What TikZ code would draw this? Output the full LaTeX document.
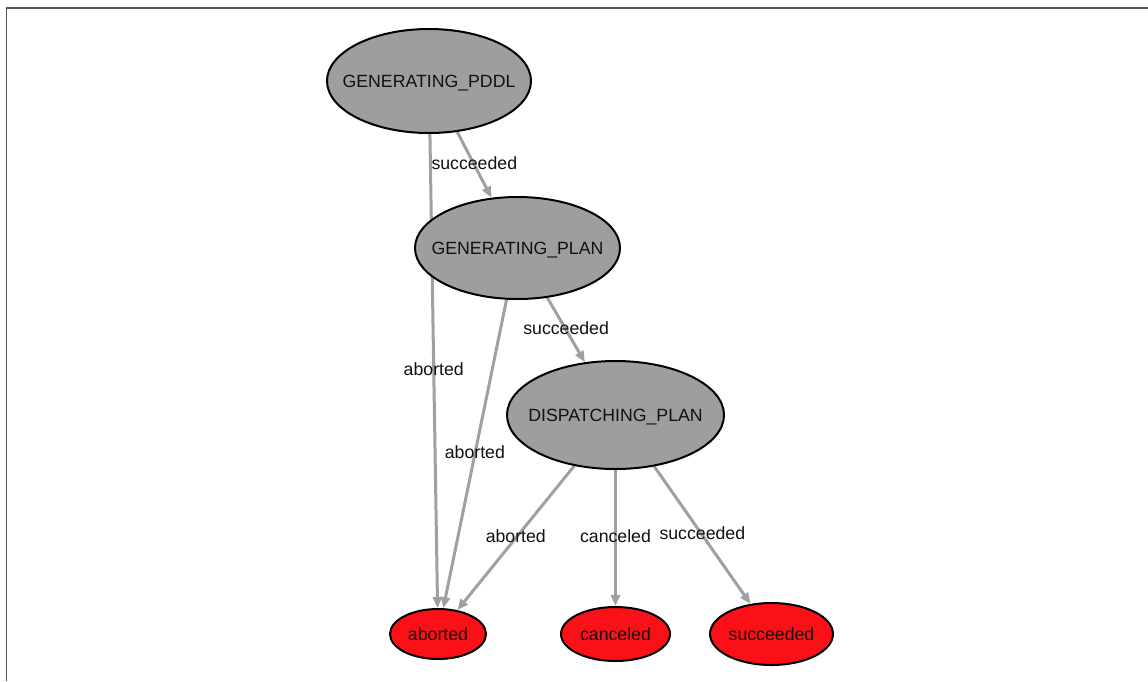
\documentclass[tikz,border=0pt]{standalone}
\usepackage{fontspec}
\setmainfont{Liberation Sans}
\usetikzlibrary{shapes.geometric,arrows.meta,backgrounds}

\definecolor{statefill}{RGB}{158,158,158}
\definecolor{finalfill}{RGB}{250,16,22}
\definecolor{edgegray}{RGB}{160,160,160}
\definecolor{framegray}{RGB}{85,85,85}
\definecolor{inktext}{RGB}{17,17,17}

% text centred on the node without enlarging the ellipse around it
\newcommand{\ctext}[1]{\smash{\makebox[0pt]{\raisebox{-0.36em}{#1}}}}

\tikzset{
  state/.style={ellipse, draw=black, line width=2pt, fill=statefill,
    inner sep=0pt, text=inktext, font=\fontsize{17.7}{20}\selectfont},
  outcome/.style={ellipse, draw=black, line width=2pt, fill=finalfill,
    inner sep=0pt, text=inktext, font=\fontsize{17.7}{20}\selectfont},
  transition/.style={draw=edgegray, line width=3pt,
    -{Triangle[length=11pt,width=9pt]}},
  tlabel/.style={midway, inner sep=0pt, yshift=2pt, text=inktext,
    font=\fontsize{17.7}{20}\selectfont},
}

\begin{document}
\begin{tikzpicture}[x=1pt,y=-1pt]
  \useasboundingbox (0,0) rectangle (1148,681);

  % states
  \node[state, minimum width=204pt, minimum height=104pt] (pddl) at (429,81) {\ctext{GENERATING\_PDDL}};
  \node[state, minimum width=205pt, minimum height=102pt] (plan) at (517.5,248) {\ctext{GENERATING\_PLAN}};
  \node[state, minimum width=217pt, minimum height=108pt] (disp) at (615.5,415) {\ctext{DISPATCHING\_PLAN}};

  % outcomes
  \node[outcome, minimum width=96pt, minimum height=50pt] (aborted) at (438,634) {\ctext{aborted}};
  \node[outcome, minimum width=109pt, minimum height=54pt] (canceled) at (615.5,634) {\ctext{canceled}};
  \node[outcome, minimum width=123pt, minimum height=62pt] (succeeded) at (771.5,634) {\ctext{succeeded}};

  \begin{pgfonlayer}{background}
    \fill[white] (0,0) rectangle (1148,681);
    % frame along the left and top edges
    \draw[framegray, line width=1.6pt] (6.5,681) -- (6.5,8) -- (1148,8);

    % transitions pass behind the states
    \draw[transition] (pddl.-61) -- (plan) node[tlabel] {succeeded};
    \draw[transition] (pddl.-89) -- (aborted) node[tlabel] {aborted};
    \draw[transition] (plan.-102) -- (aborted) node[tlabel] {aborted};
    \draw[transition] (plan.-59.5) -- (disp) node[tlabel] {succeeded};
    \draw[transition] (disp.-129) -- (aborted) node[tlabel] {aborted};
    \draw[transition] (disp.-90) -- (canceled) node[tlabel] {canceled};
    \draw[transition] (disp.-53.7) -- (succeeded) node[tlabel] {succeeded};
  \end{pgfonlayer}
\end{tikzpicture}
\end{document}
